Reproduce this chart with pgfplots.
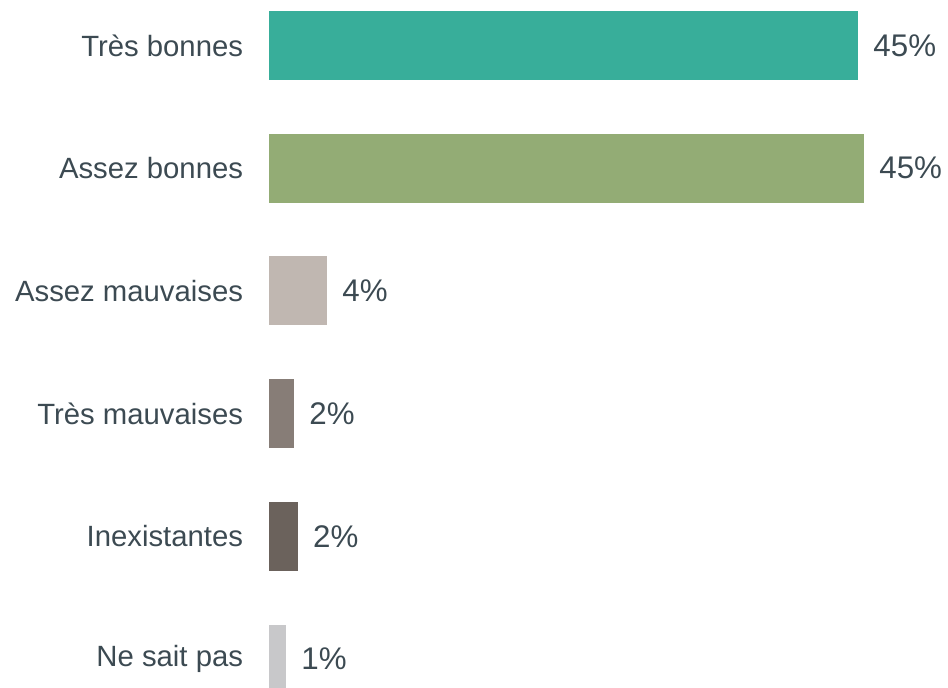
\documentclass[border=0pt]{standalone}
\usepackage{pgfplots}
\pgfplotsset{compat=1.18}
\usepackage{fontspec}
\setmainfont{Liberation Sans}
\definecolor{txt}{HTML}{3C4A52}
\definecolor{c1}{HTML}{38AE9A}
\definecolor{c2}{HTML}{93AC75}
\definecolor{c3}{HTML}{C0B7B1}
\definecolor{c4}{HTML}{877D77}
\definecolor{c5}{HTML}{6B625C}
\definecolor{c6}{HTML}{C8C8CA}
\begin{document}
\begin{tikzpicture}
\begin{axis}[
  name=ax,
  scale only axis,
  width=339.5pt, height=344pt,
  xbar, bar shift=0pt, bar width=0.562,
  xmin=0, xmax=51.87,
  ymin=-0.371, ymax=5.236,
  y dir=reverse,
  axis line style={draw=none},
  tick style={draw=none},
  xtick=\empty,
  ytick={0,1,2,3,4,5},
  yticklabels={Très bonnes, Assez bonnes, Assez mauvaises, Très mauvaises, Inexistantes, Ne sait pas},
  yticklabel style={font=\fontsize{14.65}{17}\selectfont, text=txt, inner sep=0pt, anchor=east, xshift=-8.5pt},
  nodes near coords,
  point meta=explicit symbolic,
  every node near coord/.append style={font=\fontsize{15.65}{18}\selectfont, text=txt, inner sep=0pt, anchor=west, xshift=7.5pt},
]
\addplot[fill=c1, draw=none] coordinates {(45,0) [45\%]};
\addplot[fill=c2, draw=none] coordinates {(45.45,1) [45\%]};
\addplot[fill=c3, draw=none] coordinates {(4.43,2) [4\%]};
\addplot[fill=c4, draw=none] coordinates {(1.91,3) [2\%]};
\addplot[fill=c5, draw=none] coordinates {(2.2,4) [2\%]};
\addplot[fill=c6, draw=none] coordinates {(1.3,5) [1\%]};
\coordinate (c00) at (rel axis cs:0,0);
\coordinate (c11) at (rel axis cs:1,1);
\end{axis}
\pgfresetboundingbox
\path ([xshift=-134.5pt]c00) rectangle (c11);
\end{tikzpicture}
\end{document}
